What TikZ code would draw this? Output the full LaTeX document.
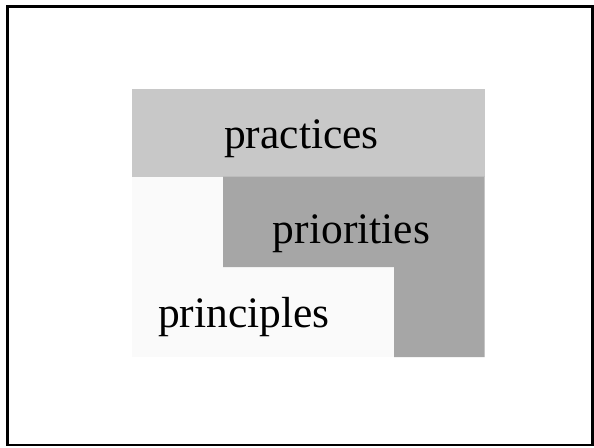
\documentclass[tikz,border=0pt]{standalone}
\usepackage{fontspec}
\setmainfont{Liberation Serif}
\definecolor{practicesgray}{HTML}{C8C8C8}
\definecolor{prioritiesgray}{HTML}{A6A6A6}
\definecolor{principlesgray}{HTML}{FAFAFA}
\tikzset{
  label text/.style={anchor=base, inner sep=0pt, font=\fontsize{43.5}{50}\selectfont, text=black},
}
\begin{document}
\begin{tikzpicture}[x=1pt, y=-1pt]
  \useasboundingbox (0,0) rectangle (594,447);
  \fill[white] (0,0) rectangle (594,447);
  % frame
  \draw[line width=2.5pt, black] (7.5,6.5) rectangle (592.5,445);
  % blocks
  \fill[practicesgray] (132,89) rectangle (484.5,176.5);
  \fill[principlesgray] (132,176.5) rectangle (394,357);
  \fill[prioritiesgray] (223,176.5) -- (484.5,176.5) -- (484.5,357) -- (394,357) -- (394,267) -- (223,267) -- cycle;
  % labels
  \node[label text] (practices) at (301.5,148) {practices};
  \node[label text] (priorities) at (351.5,243) {priorities};
  \node[label text] (principles) at (244,327) {principles};
\end{tikzpicture}
\end{document}
